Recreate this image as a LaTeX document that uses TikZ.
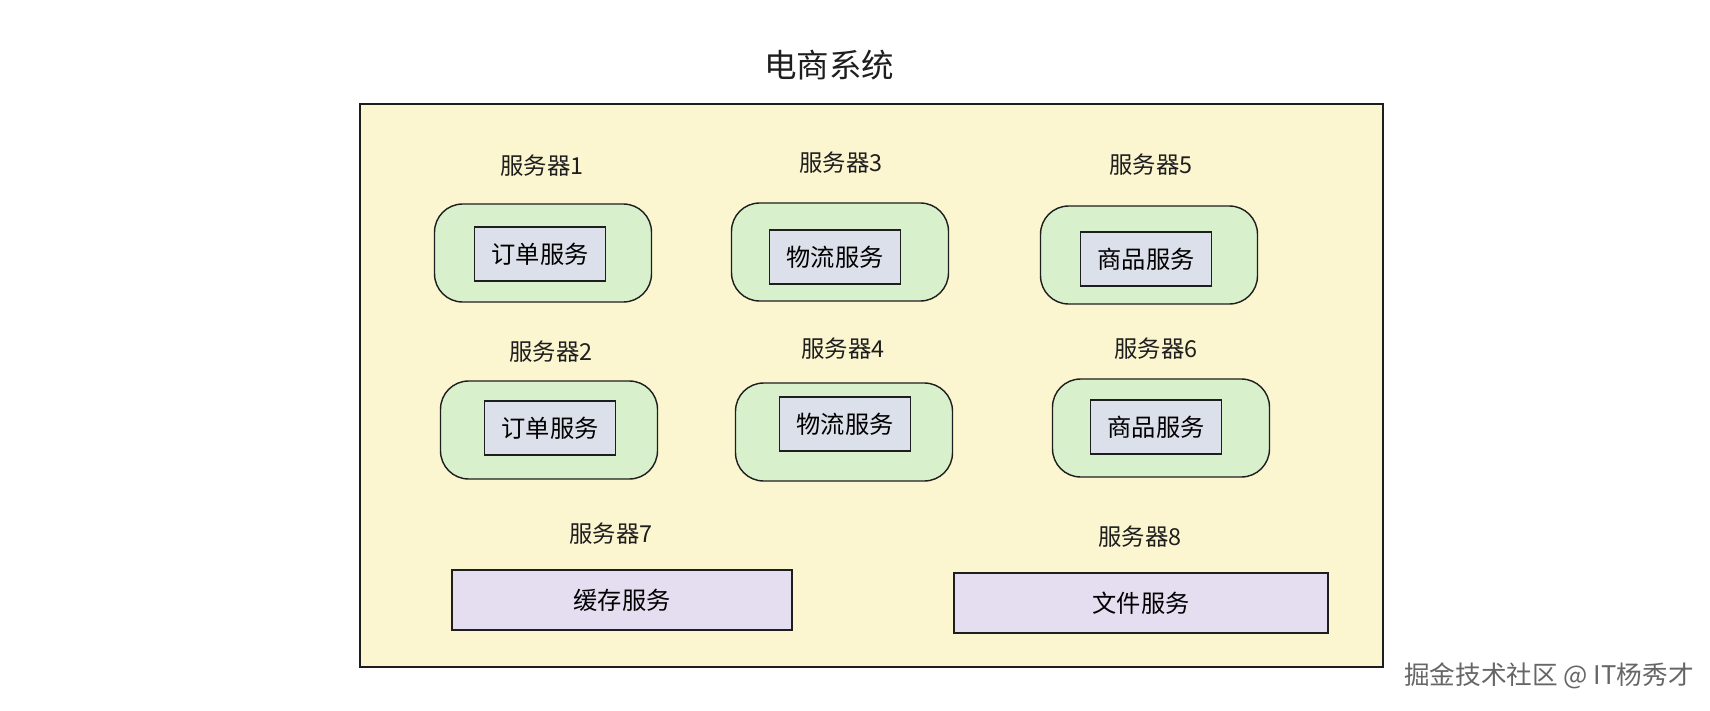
\documentclass[tikz,border=0pt]{standalone}
\usepackage{fontspec}
\setmainfont{Noto Sans CJK SC}
\definecolor{sysyellow}{HTML}{FBF5D0}
\definecolor{hostgreen}{HTML}{D8F0CC}
\definecolor{svcgray}{HTML}{DCE0EA}
\definecolor{cachepurple}{HTML}{E4DEF0}
\definecolor{inkdark}{HTML}{1E1E1E}

\begin{document}
\begin{tikzpicture}[x=0.02cm,y=-0.02cm,
    host/.style={draw=inkdark, line width=0.8pt, fill=hostgreen, rounded corners=16pt,
      minimum width=4.34cm, minimum height=1.96cm},
    svc/.style={draw=inkdark, line width=0.8pt, fill=svcgray,
      minimum width=2.62cm, minimum height=1.08cm, font=\fontsize{13.8}{16}\selectfont},
    store/.style={draw=inkdark, line width=0.8pt, fill=cachepurple,
      minimum height=1.2cm, font=\fontsize{13.8}{16}\selectfont},
    hostname/.style={font=\fontsize{13.3}{15}\selectfont, text=inkdark}]
    \useasboundingbox (0,0) rectangle (1710,710);
    %\draw[step=100,lightgray,ultra thin] (0,0) grid (1710,710);
    \node[font=\fontsize{18.5}{21}\selectfont, text=inkdark] (title) at (829,65) {电商系统};
    \draw[inkdark, line width=0.6pt, fill=sysyellow] (360,104) rectangle (1383,667);

    % top row
    \node[hostname] (name1) at (542,166) {服务器1};
    \node[hostname] (name3) at (841,163) {服务器3};
    \node[hostname] (name5) at (1151,165) {服务器5};
    \node[host] (host1) at (543,253) {};
    \node[host] (host3) at (840,252) {};
    \node[host] (host5) at (1149,255) {};
    \node[svc] (order1) at (540,254) {订单服务};
    \node[svc] (ship3) at (835,257) {物流服务};
    \node[svc] (goods5) at (1146,259) {商品服务};

    % middle row
    \node[hostname] (name2) at (551,352) {服务器2};
    \node[hostname] (name4) at (843,349) {服务器4};
    \node[hostname] (name6) at (1156,349) {服务器6};
    \node[host] (host2) at (549,430) {};
    \node[host] (host4) at (844,432) {};
    \node[host] (host6) at (1161,428) {};
    \node[svc] (order2) at (550,428) {订单服务};
    \node[svc] (ship4) at (845,424) {物流服务};
    \node[svc] (goods6) at (1156,427) {商品服务};

    % bottom row
    \node[hostname] (name7) at (611,534) {服务器7};
    \node[hostname] (name8) at (1140,537) {服务器8};
    \node[store, minimum width=6.8cm] (cache7) at (622,600) {缓存服务};
    \node[store, minimum width=7.48cm] (file8) at (1141,603) {文件服务};

    \node[font=\fontsize{14.6}{17}\selectfont, text=gray!80!black] (mark) at (1549,676) {掘金技术社区 @ IT杨秀才};
\end{tikzpicture}
\end{document}
